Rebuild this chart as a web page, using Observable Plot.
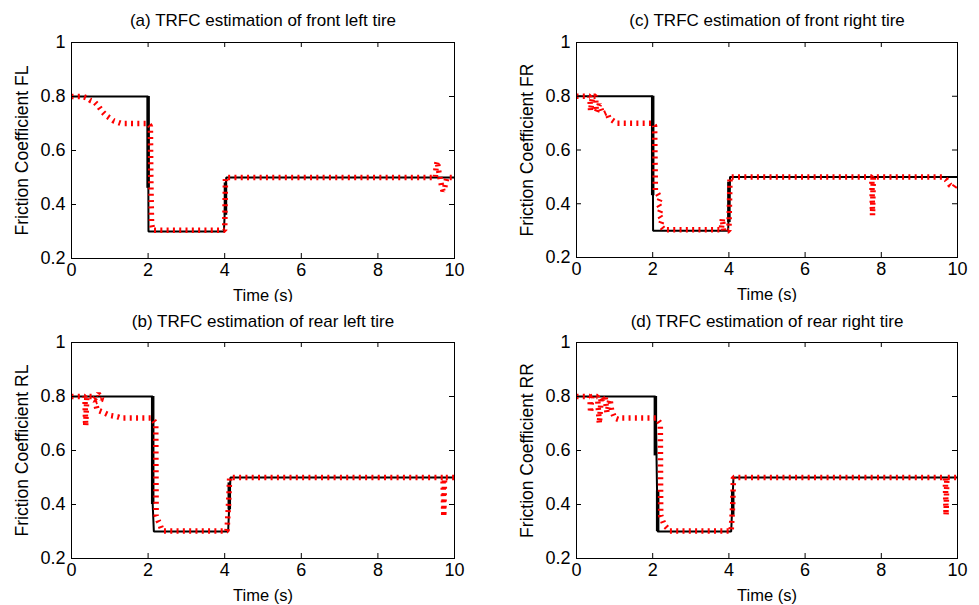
<!DOCTYPE html>
<html><head><meta charset="utf-8">
<script src="https://cdn.jsdelivr.net/npm/d3@7"></script>
<script src="https://cdn.jsdelivr.net/npm/@observablehq/plot@0.6"></script>
<style>
body{margin:0;background:#fff;}
#wrap{position:relative;width:979px;height:605px;overflow:hidden;background:#fff;}
#wrap svg{position:absolute;}
</style></head><body><div id="wrap"></div>
<script>
// ---- tick values / labels ----
const xTicks = [0, 2, 4, 6, 8, 10];
const yTicks = [0.2, 0.4, 0.6, 0.8, 1];
const yTickLabels = ["0.2", "0.4", "0.6", "0.8", "1"];
const xLabel = "Time (s)";
const titles = [
  "(a) TRFC estimation of front left tire",
  "(c) TRFC estimation of front right tire",
  "(b) TRFC estimation of rear left tire",
  "(d) TRFC estimation of rear right tire"
];
const yLabels = ["Friction Coefficient FL", "Friction Coefficient FR", "Friction Coefficient RL", "Friction Coefficient RR"];

// ---- actual TRFC (black) ----
const trueFL_t  = [0, 2.0, 2.01, 3.98, 4.04, 10];
const trueFL_mu = [0.8, 0.8, 0.3, 0.3, 0.5, 0.5];
const trueFR_t  = [0, 2.0, 2.01, 3.98, 4.03, 10];
const trueFR_mu = [0.8, 0.8, 0.3, 0.3, 0.5, 0.5];
const trueRL_t  = [0, 2.12, 2.12, 2.15, 4.09, 4.15, 10];
const trueRL_mu = [0.8, 0.8, 0.4, 0.3, 0.3, 0.5, 0.5];
const trueRR_t  = [0, 2.07, 2.1, 2.13, 4.06, 4.12, 10];
const trueRR_mu = [0.8, 0.8, 0.58, 0.3, 0.3, 0.5, 0.5];

// heavy (overplotted) parts of the black steps
const thickFL = [{t: 2.0, y1: 0.8, y2: 0.46}, {t: 4.02, y1: 0.36, y2: 0.48}];
const thickFR = [{t: 2.0, y1: 0.8, y2: 0.43}, {t: 4.0, y1: 0.33, y2: 0.48}];
const thickRL = [{t: 2.12, y1: 0.8, y2: 0.4}, {t: 4.12, y1: 0.38, y2: 0.48}];
const thickRR = [{t: 2.07, y1: 0.8, y2: 0.58}, {t: 2.13, y1: 0.45, y2: 0.3}, {t: 4.1, y1: 0.36, y2: 0.45}];

// ---- estimated TRFC (red) ----
const estFL_t  = [0, 0.3, 0.4, 0.5, 0.6, 0.7, 0.8, 0.9, 1.0, 1.1, 1.2, 1.3, 2.0, 2.06, 2.07, 2.09, 2.12, 4.0, 4.02, 4.05, 9.5, 9.52, 9.55, 9.58, 9.62, 9.66, 9.7, 9.74, 9.8, 10];
const estFL_mu = [0.8, 0.8, 0.795, 0.785, 0.78, 0.765, 0.745, 0.73, 0.72, 0.71, 0.705, 0.70, 0.70, 0.69, 0.5, 0.33, 0.305, 0.305, 0.5, 0.5, 0.5, 0.54, 0.56, 0.53, 0.5, 0.47, 0.45, 0.46, 0.5, 0.5];

const estFR_t  = [0, 0.35, 0.37, 0.42, 0.5, 0.52, 0.6, 0.66, 0.72, 0.8, 0.85, 0.95, 1.05, 2.0, 2.05, 2.07, 2.12, 2.2, 2.14, 2.22, 2.16, 2.25, 2.2, 2.3, 3.8, 3.83, 3.86, 3.98, 4.0, 4.03, 7.75, 7.77, 7.79, 9.6, 9.7, 9.8, 9.9, 10];
const estFR_mu = [0.8, 0.8, 0.745, 0.8, 0.8, 0.74, 0.77, 0.745, 0.735, 0.74, 0.72, 0.71, 0.70, 0.70, 0.69, 0.45, 0.44, 0.42, 0.40, 0.38, 0.36, 0.34, 0.32, 0.303, 0.303, 0.345, 0.3, 0.3, 0.3, 0.5, 0.5, 0.357, 0.5, 0.5, 0.49, 0.47, 0.46, 0.48];

const estRL_t  = [0, 0.35, 0.37, 0.4, 0.55, 0.6, 0.7, 0.8, 0.62, 0.67, 0.85, 1.0, 1.2, 1.3, 2.1, 2.2, 2.21, 2.26, 2.3, 2.35, 2.4, 4.06, 4.1, 4.13, 9.7, 9.72, 9.74, 10];
const estRL_mu = [0.8, 0.8, 0.69, 0.8, 0.8, 0.79, 0.81, 0.79, 0.78, 0.75, 0.74, 0.73, 0.725, 0.72, 0.72, 0.70, 0.36, 0.34, 0.33, 0.31, 0.302, 0.302, 0.4, 0.5, 0.5, 0.355, 0.5, 0.5];

const estRR_t  = [0, 0.35, 0.37, 0.4, 0.55, 0.6, 0.65, 0.7, 0.75, 0.8, 0.88, 0.92, 1.0, 1.1, 1.2, 2.1, 2.2, 2.21, 2.26, 2.3, 2.4, 2.45, 4.06, 4.1, 4.12, 9.68, 9.7, 9.72, 10];
const estRR_mu = [0.8, 0.8, 0.74, 0.8, 0.8, 0.7, 0.8, 0.79, 0.8, 0.74, 0.79, 0.75, 0.72, 0.715, 0.72, 0.72, 0.70, 0.36, 0.34, 0.325, 0.31, 0.302, 0.302, 0.4, 0.5, 0.5, 0.36, 0.5, 0.5];

const zip = (t, mu) => t.map((d, i) => ({t: d, mu: mu[i]}));

const panels = [
  {title: titles[0], ylab: yLabels[0], tr: zip(trueFL_t, trueFL_mu), est: zip(estFL_t, estFL_mu), thick: thickFL,
   left: 0, top: 0, width: 489, height: 302, ml: 71, mr: 35, mt: 42, mb: 44},
  {title: titles[1], ylab: yLabels[1], tr: zip(trueFR_t, trueFR_mu), est: zip(estFR_t, estFR_mu), thick: thickFR,
   left: 489, top: 0, width: 490, height: 302, ml: 87, mr: 22, mt: 42, mb: 45},
  {title: titles[2], ylab: yLabels[2], tr: zip(trueRL_t, trueRL_mu), est: zip(estRL_t, estRL_mu), thick: thickRL,
   left: 0, top: 302, width: 489, height: 303, ml: 71, mr: 35, mt: 40, mb: 47},
  {title: titles[3], ylab: yLabels[3], tr: zip(trueRR_t, trueRR_mu), est: zip(estRR_t, estRR_mu), thick: thickRR,
   left: 489, top: 302, width: 490, height: 303, ml: 87, mr: 22, mt: 40, mb: 47}
];

const wrap = document.getElementById("wrap");
for (const p of panels) {
  const pw = p.width - p.ml - p.mr;
  const ph = p.height - p.mt - p.mb;
  const svg = Plot.plot({
    width: p.width, height: p.height,
    marginLeft: p.ml, marginRight: p.mr, marginTop: p.mt, marginBottom: p.mb,
    style: {fontSize: "16.5px", fontFamily: "'Liberation Sans', Arial, sans-serif", background: "white", color: "black", overflow: "visible"},
    x: {domain: [0, 10]},
    y: {domain: [0.2, 1]},
    marks: [
      Plot.line(p.tr, {x: "t", y: "mu", stroke: "black", strokeWidth: 2, strokeLinecap: "butt", strokeLinejoin: "miter"}),
      Plot.ruleX(p.thick, {x: "t", y1: "y1", y2: "y2", stroke: "black", strokeWidth: 3.5}),
      Plot.line(p.est, {x: "t", y: "mu", stroke: "#ff0000", strokeWidth: 5.5, strokeDasharray: "2,4.3", strokeLinecap: "butt", strokeLinejoin: "bevel"}),
      Plot.frame({stroke: "black", strokeWidth: 1}),
      Plot.tickX(xTicks, {x: d => d, insetTop: ph - 5, stroke: "black"}),
      Plot.tickX(xTicks, {x: d => d, insetBottom: ph - 5, stroke: "black"}),
      Plot.tickY(yTicks, {y: d => d, insetRight: pw - 5, stroke: "black"}),
      Plot.tickY(yTicks, {y: d => d, insetLeft: pw - 5, stroke: "black"}),
      Plot.axisX({ticks: xTicks, tickSize: 0, tickPadding: 5, label: null, fontSize: 18, tickFormat: d => String(d)}),
      Plot.axisY({ticks: yTicks, tickSize: 0, tickPadding: 6, label: null, fontSize: 18, tickFormat: d => yTickLabels[yTicks.indexOf(d)]}),
      Plot.text([p.title], {text: d => d, frameAnchor: "top", dy: p.top ? -21 : -22, lineAnchor: "middle", fontSize: 17, fill: "black"}),
      Plot.text([xLabel], {text: d => d, frameAnchor: "bottom", dy: 37, lineAnchor: "middle", fontSize: 16.5, fill: "black"}),
      Plot.text([p.ylab], {text: d => d, frameAnchor: "left", dx: -49, rotate: -90, textAnchor: "middle", lineAnchor: "middle", fontSize: 17.5, fill: "black"})
    ]
  });
  svg.style.left = p.left + "px";
  svg.style.top = p.top + "px";
  wrap.appendChild(svg);
}
</script>
</body></html>
